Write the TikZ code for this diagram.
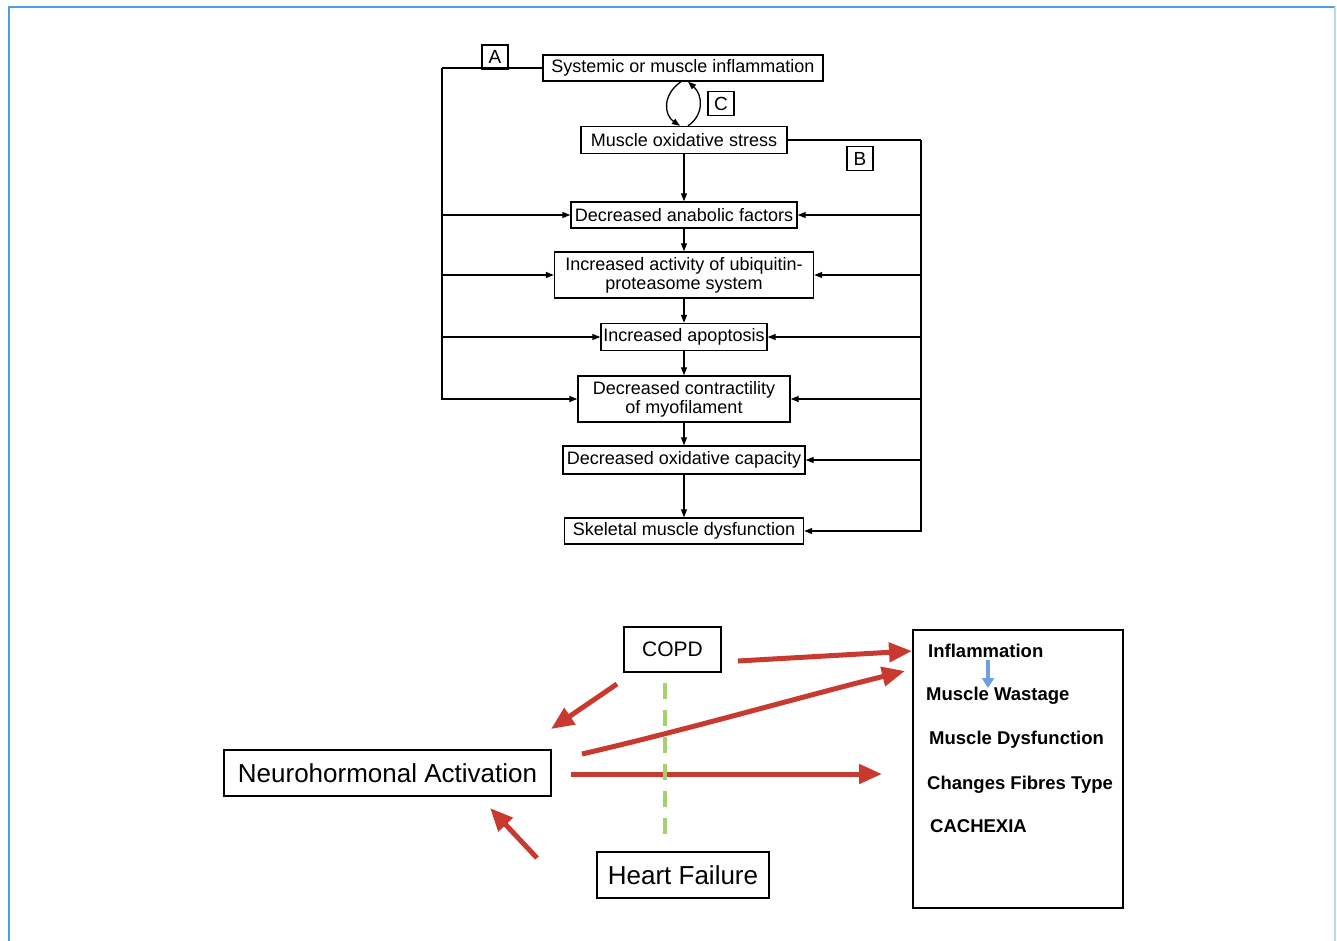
\documentclass[tikz,border=0pt]{standalone}
\usepackage{fontspec}
\setmainfont{Liberation Sans}
\usetikzlibrary{arrows.meta}
\definecolor{frameblue}{HTML}{4A9FE3}
\definecolor{framelight}{HTML}{B5DAF2}
\definecolor{redarr}{HTML}{C83A30}
\definecolor{greendash}{HTML}{A5D16B}
\definecolor{bluearr}{HTML}{6F9FE0}
\begin{document}
\begin{tikzpicture}[x=1pt,y=-1pt,
  box/.style={draw, line width=1.4pt, inner sep=0pt, align=center, font=\fontsize{18}{19}\selectfont},
  sarrow/.style={line width=1.3pt, -{Triangle[length=8pt,width=6pt]}},
  sline/.style={line width=1.3pt},
  lbl/.style={draw, line width=1.2pt, minimum width=26pt, minimum height=24pt, inner sep=0pt, font=\fontsize{19}{19}\selectfont},
  bigbox/.style={draw, line width=1.6pt, inner sep=0pt, font=\fontsize{26}{26}\selectfont},
  redarrow/.style={draw=redarr, line width=5pt, -{Triangle[length=23pt,width=19pt]}},
  outtext/.style={anchor=base west, font=\bfseries\fontsize{18.5}{18.5}\selectfont, inner sep=0pt}
]
\useasboundingbox (0,0) rectangle (1337,941);
% frame
\draw[frameblue, line width=2pt] (9,941) -- (9,7) -- (1335,7);
\draw[framelight, line width=1.5pt] (1335,7) -- (1335,941);

% ---------- top flow chart ----------
\node[box, minimum width=280pt, minimum height=26pt] (sys) at (683,68) {Systemic or muscle inflammation};
\node[box, minimum width=206pt, minimum height=27pt] (mos) at (684,140) {Muscle oxidative stress};
\node[box, minimum width=226pt, minimum height=26pt] (daf) at (684,215) {Decreased anabolic factors};
\node[box, minimum width=259pt, minimum height=46pt] (ubi) at (684,275) {Increased activity of ubiquitin-\\proteasome system};
\node[box, minimum width=166pt, minimum height=27pt] (apo) at (684,337) {Increased apoptosis};
\node[box, minimum width=212pt, minimum height=46pt] (dcm) at (684,399) {Decreased contractility\\of myofilament};
\node[box, minimum width=242pt, minimum height=28pt] (doc) at (684,460) {Decreased oxidative capacity};
\node[box, minimum width=239pt, minimum height=26pt] (smd) at (684,531) {Skeletal muscle dysfunction};

\node[lbl] (labA) at (495,57) {A};
\node[lbl] (labC) at (721,103.5) {C};
\node[lbl] (labB) at (860,158.5) {B};

% cycle C
\draw[sarrow] ([xshift=-2pt]sys.south) .. controls (662,95) and (664,115) .. ([xshift=-4pt]mos.north);
\draw[sarrow] ([xshift=4pt]mos.north) .. controls (704,115) and (703,95) .. ([xshift=5pt]sys.south);

% vertical chain
\draw[sarrow] (mos) -- (daf);
\draw[sarrow] (daf) -- (ubi);
\draw[sarrow] (ubi) -- (apo);
\draw[sarrow] (apo) -- (dcm);
\draw[sarrow] (dcm) -- (doc);
\draw[sarrow] (doc) -- (smd);

% left bus (A)
\coordinate (Lbus) at (442,68);
\draw[sline] (sys.west) -- (Lbus);
\draw[sarrow] (Lbus) |- (dcm.west);
\draw[sarrow] (daf.west -| Lbus) -- (daf.west);
\draw[sarrow] (ubi.west -| Lbus) -- (ubi.west);
\draw[sarrow] (apo.west -| Lbus) -- (apo.west);

% right bus (B)
\coordinate (Rbus) at (921,140);
\draw[sline] (mos.east) -- (Rbus);
\draw[sarrow] (Rbus) |- (smd.east);
\draw[sarrow] (daf.east -| Rbus) -- (daf.east);
\draw[sarrow] (ubi.east -| Rbus) -- (ubi.east);
\draw[sarrow] (apo.east -| Rbus) -- (apo.east);
\draw[sarrow] (dcm.east -| Rbus) -- (dcm.east);
\draw[sarrow] (doc.east -| Rbus) -- (doc.east);

% ---------- bottom diagram ----------
\node[bigbox, minimum width=97pt, minimum height=45pt, font=\fontsize{21}{21}\selectfont] (copd) at (672.5,649.5) {COPD};
\node[bigbox, minimum width=327pt, minimum height=46pt] (neuro) at (387.5,773) {Neurohormonal Activation};
\node[bigbox, minimum width=172pt, minimum height=46pt] (hf) at (683,875) {Heart Failure};
\node[draw, line width=1.6pt, minimum width=210pt, minimum height=278pt, inner sep=0pt] (out) at (1018,769) {};

\node[outtext] (o1) at (928,657.6) {Inflammation};
\node[outtext] (o2) at (926,700.6) {Muscle Wastage};
\node[outtext] (o3) at (929,744.6) {Muscle Dysfunction};
\node[outtext] (o4) at (927,789.6) {Changes Fibres Type};
\node[outtext] (o5) at (930,832.6) {CACHEXIA};

% red arrows
\coordinate (r1s) at (738,661); \coordinate (r1e) at (912,651);
\coordinate (r2s) at (617,684); \coordinate (r2e) at (551,729);
\coordinate (r3s) at (582,754); \coordinate (r3e) at (905,671);
\coordinate (r4s) at (571,774); \coordinate (r4e) at (882,774);
\coordinate (r5s) at (537,858); \coordinate (r5e) at (490,808);
\draw[redarrow] (r1s) -- (r1e);
\draw[redarrow] (r2s) -- (r2e);
\draw[redarrow] (r3s) .. controls (690,729) and (800,697) .. (r3e);
\draw[redarrow] (r4s) -- (r4e);
\draw[redarrow] (r5s) -- (r5e);

% green dashed divider
\coordinate (gtop) at (665,683); \coordinate (gbot) at (665,836);
\draw[greendash, line width=4pt, dash pattern=on 16pt off 11pt] (gtop) -- (gbot);

% small blue arrow
\coordinate (bs) at (988,660); \coordinate (be) at (988,688);
\draw[bluearr, line width=3.5pt, -{Triangle[length=10pt,width=12pt]}] (bs) -- (be);
\end{tikzpicture}
\end{document}
